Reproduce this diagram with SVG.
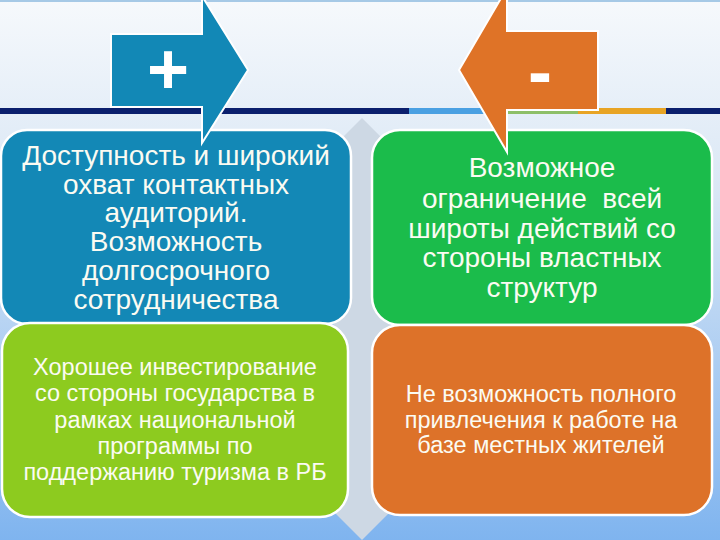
<svg xmlns="http://www.w3.org/2000/svg" width="720" height="540" viewBox="0 0 720 540">
<defs>
<linearGradient id="bg" x1="0" y1="0" x2="0" y2="1">
<stop offset="0" stop-color="#f6f9fc"/>
<stop offset="0.35" stop-color="#dae7f5"/>
<stop offset="1" stop-color="#7fb4ef"/>
</linearGradient>
<style>
.box{stroke:#ffffff;stroke-width:2.5}
.arr{stroke:#ffffff;stroke-width:2}
.t{font-family:"Liberation Sans",Arial,sans-serif;fill:#fbfbf2;text-anchor:middle}
.big{font-size:28px}
.small{font-size:23.5px}
.sym{font-family:"Liberation Sans",Arial,sans-serif;font-weight:bold;font-size:72px;fill:#ffffff;text-anchor:middle}
</style>
</defs>
<rect width="720" height="540" fill="url(#bg)"/>
<rect x="0" y="0" width="720" height="2" fill="#a6c9e6"/>
<g id="band">
<rect x="0" y="108" width="409" height="6" fill="#0b1f6d"/>
<rect x="409" y="108" width="98" height="6" fill="#4aa0e2"/>
<rect x="507" y="108" width="71" height="6" fill="#8dbf68"/>
<rect x="578" y="108" width="88" height="6" fill="#e8a424"/>
<rect x="666" y="108" width="54" height="6" fill="#0b1f6d"/>
</g>
<g id="divider">
<polygon points="362,118 390,146 390,512 362,540 334,512 334,146" fill="#cdd8e4"/>
</g>
<g id="pro1">
<rect class="box" x="1" y="130" width="350" height="194" rx="26" fill="#1388b6"/>
<text class="t big"><tspan x="176" y="165">Доступность и широкий</tspan><tspan x="176" y="194">охват контактных</tspan><tspan x="176" y="222">аудиторий.</tspan><tspan x="176" y="251">Возможность</tspan><tspan x="176" y="280">долгосрочного</tspan><tspan x="176" y="309">сотрудничества</tspan></text>
</g>
<g id="con1">
<rect class="box" x="372" y="130" width="340" height="195" rx="28" fill="#1bbc4b"/>
<text class="t big"><tspan x="542" y="177">Возможное</tspan><tspan x="542" y="208">ограничение&#160; всей</tspan><tspan x="542" y="238">широты действий со</tspan><tspan x="542" y="267">стороны властных</tspan><tspan x="542" y="297">структур</tspan></text>
</g>
<g id="pro2">
<rect class="box" x="2" y="323" width="346" height="194" rx="28" fill="#8dcb1f"/>
<text class="t small"><tspan x="175" y="375">Хорошее инвестирование</tspan><tspan x="175" y="401">со стороны государства в</tspan><tspan x="175" y="428">рамках национальной</tspan><tspan x="175" y="454">программы по</tspan><tspan x="175" y="480">поддержанию туризма в РБ</tspan></text>
</g>
<g id="con2">
<rect class="box" x="372" y="325" width="340" height="190" rx="28" fill="#dd7229"/>
<text class="t small"><tspan x="541" y="402">Не возможность полного</tspan><tspan x="541" y="428">привлечения к работе на</tspan><tspan x="541" y="453">базе местных жителей</tspan></text>
</g>
<g id="plus">
<polygon class="arr" points="111,34 202,34 202,-4 248,70 202,143 202,107 111,107" fill="#1288b6"/>
<text class="sym" x="168" y="94">+</text>
</g>
<g id="minus">
<polygon class="arr" points="598,31 507,31 507,-12 459,70 507,152 507,110 598,110" fill="#df7327"/>
<text class="sym" x="540" y="96">-</text>
</g>
</svg>
